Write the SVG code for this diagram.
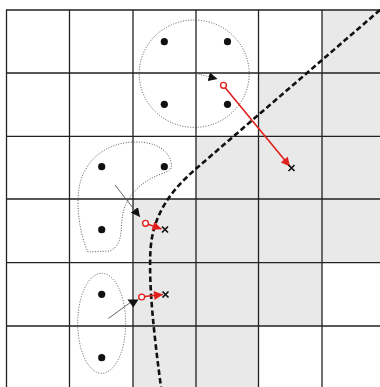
<svg xmlns="http://www.w3.org/2000/svg" width="380" height="387" viewBox="0 0 380 387">
<defs>
<style>
.grid{stroke:#222;stroke-width:1.3;fill:none}
.dot{fill:#111}
.region{fill:none;stroke:#444;stroke-width:0.9;stroke-dasharray:1 1.6}
.bound{fill:none;stroke:#111;stroke-width:2.6;stroke-dasharray:5.5 3}
.gline{stroke:#555;stroke-width:0.9;fill:none}
.red{stroke:#e0201c;stroke-width:1.6;fill:none}
.rc{stroke:#e0201c;stroke-width:1.4;fill:#fff}
.xm{stroke:#111;stroke-width:1.7}
</style>
<marker id="ah" viewBox="0 0 10 10" refX="10" refY="5" markerWidth="9" markerHeight="9" markerUnits="userSpaceOnUse" orient="auto"><path d="M0,0 L10,5 L0,10 Z" fill="#111"/></marker>
<marker id="rh" viewBox="0 0 10 10" refX="10" refY="5" markerWidth="10" markerHeight="9" markerUnits="userSpaceOnUse" orient="auto"><path d="M0,0 L10,5 L0,10 Z" fill="#e0201c"/></marker>
</defs>
<rect width="380" height="387" fill="#fff"/>
<polygon points="322,10 380,10 380,262.7 322,262.7 322,326 258.5,326 258.5,387 133,387 133,199 196,199 196,136 258.5,136 258.5,73 322,73" fill="#e8e9e8"/>
<g id="grid">
<path class="grid" d="M6.5,10 V387 M69.5,10 V387 M133,10 V387 M196,10 V387 M258.5,10 V387 M322,10 V387"/>
<path class="grid" d="M6,10 H380 M6,73 H380 M6,136.3 H380 M6,199 H380 M6,262.7 H380 M6,326 H380"/>
</g>
<g id="boundary">
<path class="bound" d="M380,10 L198,167 C176,186 153,210 150.5,250 C148.5,285 154,335 161,387"/>
</g>
<g id="cluster-top">
<ellipse class="region" cx="194.2" cy="73.7" rx="55" ry="53.7"/>
<circle class="dot" cx="164.3" cy="41.7" r="3.6"/>
<circle class="dot" cx="227.5" cy="41.7" r="3.6"/>
<circle class="dot" cx="164.3" cy="104.3" r="3.6"/>
<circle class="dot" cx="227.5" cy="104.3" r="3.6"/>
</g>
<g id="cluster-mid">
<path class="region" d="M88,252 C80,235 76,208 79,188 C84,160 106,142 136,142 C156,142 168,150 171,162 C173,170 169,171 161,174 C142,181 127,195 123,213 C120,228 124,244 110,251 Z"/>
<circle class="dot" cx="101.7" cy="166.7" r="3.6"/>
<circle class="dot" cx="164.3" cy="166.7" r="3.6"/>
<circle class="dot" cx="101.7" cy="229.7" r="3.6"/>
</g>
<g id="cluster-low">
<ellipse class="region" cx="101.7" cy="323.3" rx="24" ry="50"/>
<circle class="dot" cx="101.7" cy="294.3" r="3.6"/>
<circle class="dot" cx="101.7" cy="357.7" r="3.6"/>
</g>
<g id="connectors">
<line class="gline" x1="196" y1="73.5" x2="217.5" y2="79" stroke-dasharray="1 1.5" marker-end="url(#ah)"/>
<line class="gline" x1="115" y1="185" x2="140" y2="217" marker-end="url(#ah)"/>
<line class="gline" x1="108.3" y1="318.5" x2="131" y2="302"/>
<path d="M127.5,299.5 L138.5,299.5 L133.3,307.5 Z" fill="#111"/>
<line class="red" x1="225" y1="87.5" x2="290" y2="166.5" marker-end="url(#rh)"/>
<line class="red" x1="148" y1="224.3" x2="161.5" y2="229" marker-end="url(#rh)"/>
<line class="red" x1="144.5" y1="296.5" x2="163" y2="294.5" marker-end="url(#rh)"/>
</g>
<g id="points">
<circle class="rc" cx="223.5" cy="85.3" r="2.9"/>
<circle class="rc" cx="145.5" cy="223.3" r="2.9"/>
<circle class="rc" cx="141.7" cy="297" r="2.9"/>
<path class="xm" d="M288.5,165 L294.5,171 M294.5,165 L288.5,171"/>
<path class="xm" d="M162,226.5 L168,232.5 M168,226.5 L162,232.5"/>
<path class="xm" d="M162.5,291.5 L168.5,297.5 M168.5,291.5 L162.5,297.5"/>
</g>
</svg>
